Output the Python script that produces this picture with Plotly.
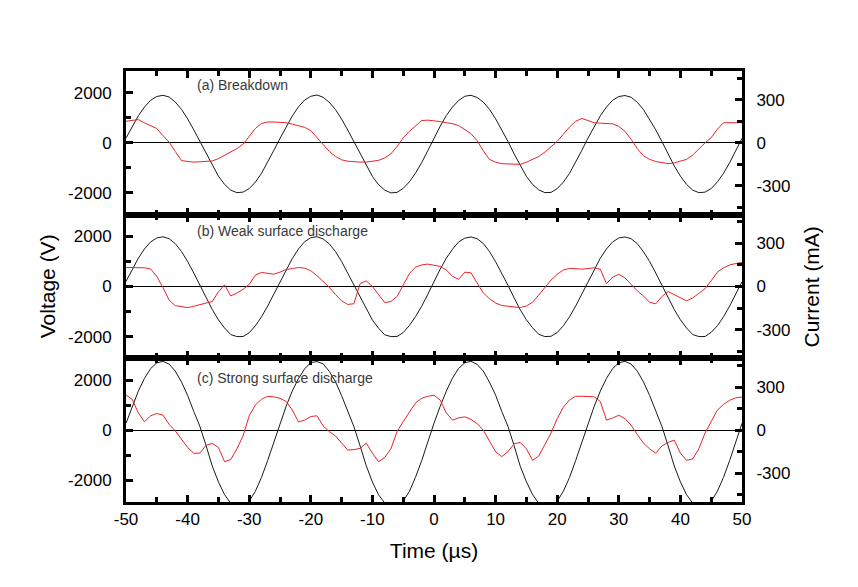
import plotly.graph_objects as go
from plotly.subplots import make_subplots

# Time axis in microseconds, one sample per µs
time_us = list(range(-50, 51))

# Voltage (V)
volt_a = [190, 660, 1080, 1430, 1700, 1850, 1900, 1830, 1630, 1340,
          960, 520, 50, -450, -920, -1330, -1660, -1890, -1990, -1970,
          -1830, -1570, -1220, -780, -300, 180, 650, 1070, 1440, 1710,
          1860, 1910, 1820, 1620, 1330, 950, 510, 40, -440, -910,
          -1340, -1670, -1890, -2000, -1980, -1820, -1560, -1210, -790, -310,
          200, 660, 1090, 1430, 1690, 1860, 1900, 1810, 1630, 1340,
          960, 520, 60, -440, -920, -1340, -1660, -1880, -1990, -1980,
          -1830, -1570, -1220, -780, -300, 190, 650, 1080, 1430, 1700,
          1850, 1890, 1820, 1620, 1330, 950, 520, 50, -450, -920,
          -1330, -1660, -1890, -1990, -1970, -1830, -1560, -1220, -790, -300,
          180]
volt_b = [200, 690, 1130, 1500, 1780, 1940, 1985, 1910, 1710, 1400,
          1000, 540, 50, -450, -920, -1330, -1660, -1920, -2000, -2000,
          -1850, -1570, -1210, -780, -300, 190, 680, 1120, 1500, 1790,
          1950, 1990, 1900, 1700, 1400, 1000, 530, 60, -440, -910,
          -1340, -1670, -1930, -2000, -2000, -1840, -1560, -1200, -790, -310,
          210, 690, 1130, 1490, 1780, 1930, 1980, 1910, 1720, 1400,
          990, 540, 50, -450, -930, -1330, -1650, -1910, -2000, -1990,
          -1840, -1570, -1210, -780, -300, 200, 690, 1130, 1500, 1780,
          1940, 1980, 1910, 1710, 1390, 1000, 540, 40, -450, -920,
          -1330, -1660, -1920, -2000, -2000, -1830, -1570, -1210, -780, -300,
          190]
volt_c = [275, 950, 1560, 2070, 2460, 2690, 2750, 2640, 2360, 1930,
          1390, 750, 150, -620, -1430, -2065, -2575, -2920, -3090, -3060,
          -2840, -2440, -1885, -1210, -465, 270, 960, 1570, 2060, 2450,
          2700, 2740, 2650, 2350, 1940, 1380, 760, 140, -630, -1420,
          -2070, -2580, -2910, -3080, -3070, -2830, -2450, -1880, -1220, -460,
          280, 950, 1560, 2080, 2470, 2690, 2750, 2630, 2360, 1920,
          1400, 750, 160, -620, -1440, -2060, -2570, -2920, -3090, -3060,
          -2840, -2440, -1890, -1210, -470, 270, 950, 1560, 2070, 2460,
          2690, 2750, 2640, 2360, 1930, 1390, 750, 150, -620, -1430,
          -2065, -2575, -2920, -3090, -3060, -2840, -2440, -1885, -1210, -465,
          275]

# Current (mA)
curr_a = [150, 155, 162, 139, 118, 100, 50, 5, -60, -123,
          -130, -134, -132, -130, -126, -110, -88, -65, -40, -10,
          45, 100, 135, 145, 145, 145, 140, 130, 120, 108,
          85, 35, -10, -60, -95, -118, -128, -132, -134, -134,
          -130, -122, -105, -77, -25, 35, 80, 120, 155, 158,
          155, 148, 140, 133, 120, 95, 64, 15, -55, -115,
          -135, -145, -148, -150, -150, -135, -115, -95, -65, -30,
          10, 60, 110, 150, 170, 155, 140, 137, 135, 132,
          115, 80, 25, -40, -90, -115, -130, -140, -145, -140,
          -130, -115, -85, -40, 0, 36, 95, 140, 140, 140,
          140]
curr_b = [133, 133, 133, 130, 122, 70, -7, -95, -133, -142,
          -147, -138, -125, -115, -105, -38, 12, -66, -45, -20,
          15, 80, 98, 92, 86, 100, 118, 125, 132, 128,
          110, 75, 35, -5, -55, -100, -125, -120, 20, 39,
          0, -60, -112, -105, -70, 10, 90, 135, 150, 156,
          150, 140, 115, 70, 50, 100, 95, 20, -45, -85,
          -115, -132, -138, -142, -147, -135, -110, -60, -5, 45,
          85, 115, 126, 124, 121, 125, 130, 120, 20, 65,
          85, 60, 16, -30, -66, -110, -120, -70, -35, -55,
          -80, -100, -80, -45, -15, 40, 100, 130, 150, 160,
          168]
curr_c = [245, 215, 120, 58, 100, 116, 105, 40, -5, -60,
          -120, -161, -160, -105, -92, -120, -219, -205, -130, -40,
          100, 175, 215, 236, 232, 222, 200, 140, 58, 70,
          95, 100, 30, -10, -40, -90, -139, -135, -127, -90,
          -160, -219, -190, -130, -10, 60, 125, 190, 222, 236,
          243, 210, 120, 70, 85, 93, 75, 46, 0, -80,
          -150, -184, -150, -95, -85, -130, -210, -180, -100, -20,
          80, 160, 210, 236, 236, 234, 232, 200, 70, 85,
          104, 80, 35, -30, -90, -130, -160, -110, -85, -69,
          -160, -210, -200, -130, -20, 60, 139, 180, 208, 225,
          231]

panel_labels = ["(a) Breakdown", "(b) Weak surface discharge",
                "(c) Strong surface discharge"]

# Tick positions and their printed labels (plain hyphen minus as in the figure)
time_ticks = [-50, -40, -30, -20, -10, 0, 10, 20, 30, 40, 50]
volt_ticks = [-2000, 0, 2000]
curr_ticks = [-300, 0, 300]

font_family = "Liberation Sans, Arial, sans-serif"
black = "#1a1a1a"
red = "#e8232b"

fig = make_subplots(rows=3, cols=1, shared_xaxes=True, vertical_spacing=0,
                    specs=[[{"secondary_y": True}]] * 3)

volts = [volt_a, volt_b, volt_c]
currs = [curr_a, curr_b, curr_c]
for i in range(3):
    fig.add_trace(go.Scatter(x=time_us, y=volts[i], mode="lines",
                             line=dict(color=black, width=1), showlegend=False),
                  row=i + 1, col=1, secondary_y=False)
    fig.add_trace(go.Scatter(x=time_us, y=currs[i], mode="lines",
                             line=dict(color=red, width=1), showlegend=False),
                  row=i + 1, col=1, secondary_y=True)

# Shared axis styling
axis_common = dict(showgrid=False, showline=True, linecolor="black", linewidth=3,
                   ticks="inside", tickcolor="black", tickwidth=3, ticklen=7,
                   automargin=False,
                   tickfont=dict(size=17, color="black", family=font_family))

fig.update_xaxes(range=[-50, 50], domain=[0, 1], tickvals=time_ticks,
                 ticktext=[str(v) for v in time_ticks], mirror="ticks",
                 minor=dict(dtick=5, ticks="inside", ticklen=5, tickwidth=2.5,
                            tickcolor="black"),
                 zeroline=False, ticklabelstandoff=0, **axis_common)

fig.update_yaxes(range=[-2870, 2870], tickvals=volt_ticks,
                 ticktext=[str(v) for v in volt_ticks],
                 minor=dict(tickvals=[-1000, 1000], ticks="inside", ticklen=5,
                            tickwidth=2.5, tickcolor="black"),
                 zeroline=True, zerolinecolor="black", zerolinewidth=1,
                 ticklabelstandoff=8, secondary_y=False, **axis_common)

fig.update_yaxes(range=[-500, 500], tickvals=curr_ticks,
                 ticktext=[str(v) for v in curr_ticks],
                 minor=dict(tickvals=[-450, -150, 150, 450], ticks="inside",
                            ticklen=5, tickwidth=2.5, tickcolor="black"),
                 zeroline=False, side="right",
                 ticklabelstandoff=8, secondary_y=True, **axis_common)

title_font = dict(size=21, color="black", family=font_family)
fig.update_xaxes(title=dict(text="Time (µs)", font=title_font, standoff=15),
                 row=3, col=1)

# Vertical axis titles placed beside the middle panel
fig.add_annotation(text="Voltage (V)", xref="paper", yref="paper", x=-0.127, y=0.5,
                   xanchor="center", yanchor="middle",
                   textangle=-90, showarrow=False, font=title_font)
fig.add_annotation(text="Current (mA)", xref="paper", yref="paper", x=1.1136, y=0.5,
                   xanchor="center", yanchor="middle",
                   textangle=-90, showarrow=False, font=title_font)

# Panel captions
label_y = [0.968, 0.629, 0.288]
for text, y in zip(panel_labels, label_y):
    fig.add_annotation(text=text, xref="paper", yref="paper", x=0.112, y=y,
                       xanchor="left", yanchor="middle", showarrow=False,
                       font=dict(size=14, color="#3a3a3a", family=font_family))

# The page adds an 8 px body margin, so the figure is drawn 8 px smaller
fig.update_layout(width=850, height=579, autosize=False,
                  margin=dict(l=118, r=116, t=63, b=85),
                  plot_bgcolor="white", paper_bgcolor="white",
                  font=dict(family=font_family, color="black"))

fig.write_html("out.html")
